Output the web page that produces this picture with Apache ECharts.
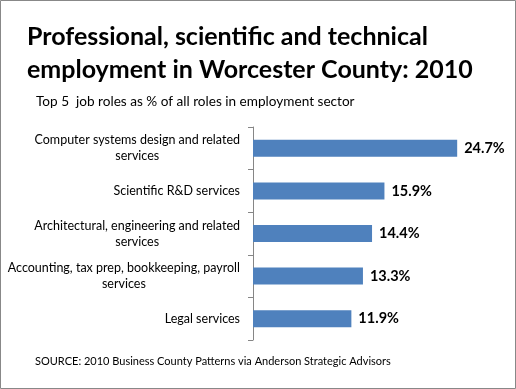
<!DOCTYPE html>
<html>
<head>
<meta charset="utf-8">
<script src="https://cdn.jsdelivr.net/npm/echarts@6/dist/echarts.min.js"></script>
<style>
html,body{margin:0;padding:0;background:#fff;}
#c{width:516px;height:389px;}
</style>
</head>
<body>
<div id="c"></div>
<script>
var titleText = 'Professional, scientific and technical\nemployment in Worcester County: 2010';
var subtitleText = 'Top 5  job roles as % of all roles in employment sector';
var sourceText = 'SOURCE: 2010 Business County Patterns via Anderson Strategic Advisors';
var categories = [
  'Computer systems design and related\nservices',
  'Scientific R&D services',
  'Architectural, engineering and related\nservices',
  'Accounting, tax prep, bookkeeping, payroll\nservices',
  'Legal services'
];
var values = [24.7, 15.9, 14.4, 13.3, 11.9];

var chart = echarts.init(document.getElementById('c'), null, {renderer: 'canvas'});
chart.setOption({
  animation: false,
  backgroundColor: '#fff',
  title: [
    {text: titleText, left: 27, top: 20, padding: 0,
     textStyle: {fontFamily: 'Lato', fontWeight: 'bold', fontSize: 25, lineHeight: 33, color: '#000'}},
    {text: subtitleText, left: 36, top: 94, padding: 0,
     textStyle: {fontFamily: 'Lato', fontWeight: 'normal', fontSize: 13.6, lineHeight: 16, color: '#000'}},
    {text: sourceText, left: 35, top: 353, padding: 0,
     textStyle: {fontFamily: 'Lato', fontWeight: 'normal', fontSize: 11, lineHeight: 16, color: '#000'}}
  ],
  graphic: [{type: 'rect', shape: {x: 0.5, y: 0.5, width: 515, height: 388},
    style: {fill: 'none', stroke: '#888', lineWidth: 1}, silent: true}],
  grid: {left: 253, top: 127, width: 248, height: 213, containLabel: false},
  xAxis: {type: 'value', min: 0, max: 30, show: false, splitLine: {show: false}},
  yAxis: {
    type: 'category', data: categories, inverse: true,
    axisLine: {show: true, lineStyle: {color: '#868686', width: 1}},
    axisTick: {show: true, length: 5, lineStyle: {color: '#868686'}},
    axisLabel: {
      margin: 13, align: 'right', color: '#000', fontFamily: 'Lato', fontSize: 12.5, lineHeight: 16,
      formatter: function (v) {
        return v.split('\n').map(function (l) { return '{c|' + l + '}'; }).join('\n');
      },
      rich: {c: {align: 'center', fontFamily: 'Lato', fontSize: 12.5, lineHeight: 16, color: '#000'}}
    }
  },
  series: [{
    type: 'bar', data: values, barWidth: '40%',
    itemStyle: {color: '#4F81BD'},
    label: {show: true, position: 'right', distance: 7, formatter: '{c}%',
      fontFamily: 'Lato', fontWeight: 'bold', fontSize: 14.5, color: '#000'}
  }]
});
</script>
</body>
</html>
